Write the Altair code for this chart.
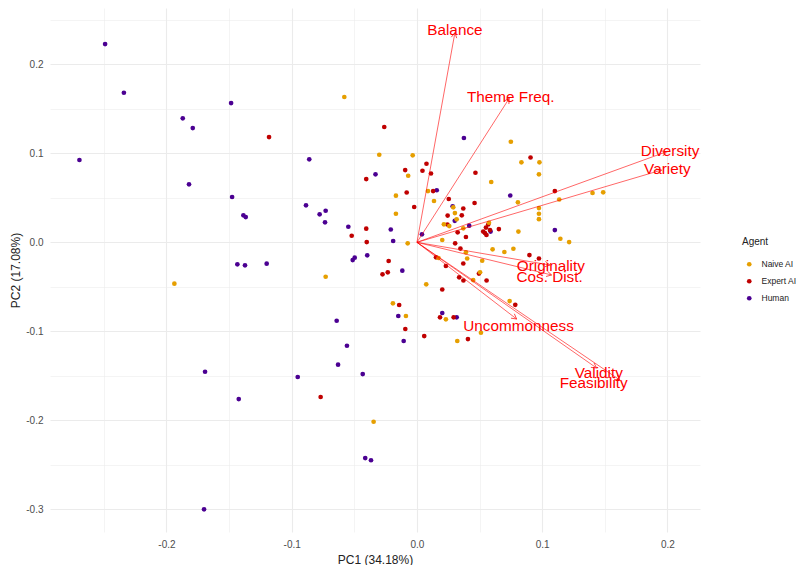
import altair as alt
import pandas as pd

# ---- PCA scores ----
naive_x = [-0.1937, -0.058, 0.075, -0.0301, -0.0034, 0.0834, 0.0978, -0.007, 0.0974, 0.0593,
           0.1402, 0.1487, 0.0088, -0.0168, 0.1136, 0.0136, 0.0806, 0.0974, 0.029, -0.0168,
           0.0974, 0.0303, 0.0974, 0.0317, 0.0575, 0.0215, 0.0258, 0.037, 0.081, 0.0202,
           0.1145, 0.1215, -0.0074, 0.0604, 0.0698, 0.077, 0.0391, 0.0172, 0.0401, 0.0521,
           -0.0729, 0.0504, 0.0449, 0.0074, -0.0192, 0.074, -0.0088, 0.0231, 0.0511, 0.0322, -0.0346]
naive_y = [-0.0465, 0.1633, 0.113, 0.0984, 0.0978, 0.0899, 0.0899, 0.0748, 0.0764, 0.0678,
           0.0554, 0.0562, 0.0576, 0.0524, 0.0481, 0.0464, 0.0449, 0.0385, 0.0393, 0.0321,
           0.0321, 0.0329, 0.026, 0.0258, 0.022, 0.0202, 0.0183, 0.0157, 0.0121, 0.0026,
           0.004, 0.0003, -0.0011, -0.0079, -0.0109, -0.0072, -0.0112, -0.0176, -0.0182, -0.0207,
           -0.0387, -0.0336, -0.0424, -0.0472, -0.0685, -0.066, -0.0828, -0.0865, -0.1016, -0.1109, -0.2016]

expert_x = [-0.1181, -0.0261, 0.0907, 0.0076, -0.0094, 0.0044, 0.0112, -0.0405, 0.0467, 0.1101,
            0.0129, -0.0082, 0.046, 0.0254, -0.0022, 0.037, 0.0245, 0.0358, 0.0243, 0.0325,
            0.0529, 0.0551, 0.0569, 0.0583, 0.0555, 0.0543, 0.0654, 0.0391, -0.0405, -0.0521,
            -0.0401, 0.0305, 0.0347, -0.0226, 0.0152, 0.0898, 0.0974, 0.0231, 0.037, -0.0233,
            -0.0275, 0.0495, 0.0337, 0.0371, 0.0556, 0.0202, -0.0142, 0.0785, 0.0184, 0.0293,
            -0.0093, 0.0058, 0.0407, -0.0769]
expert_y = [0.1183, 0.1296, 0.0953, 0.0883, 0.0812, 0.0804, 0.0773, 0.0711, 0.0782, 0.0576,
            0.0576, 0.056, 0.0442, 0.0487, 0.0397, 0.038, 0.0301, 0.0303, 0.02, 0.0112,
            0.0121, 0.0166, 0.02, 0.0138, 0.0082, 0.0104, 0.0149, 0.006, 0.0153, 0.0074,
            0.0003, -0.0011, -0.007, -0.021, -0.0169, -0.0143, -0.0182, -0.0266, -0.0238, -0.0337,
            -0.036, -0.0351, -0.0393, -0.0429, -0.0429, -0.053, -0.0704, -0.0702, -0.0843, -0.0843,
            -0.0974, -0.1053, -0.1087, -0.1738]

human_x = [-0.249, -0.234, -0.2695, -0.1484, -0.187, -0.179, -0.182, -0.1476, -0.1386, -0.1367,
           -0.1434, -0.1373, -0.12, -0.1692, -0.1423, -0.17, -0.0952, 0.0375, -0.086, -0.0331,
           0.0158, 0.0745, -0.0886, 0.0285, -0.0777, -0.0729, -0.0734, 0.0302, 0.0417, 0.0588,
           0.1101, -0.0548, -0.0209, 0.004, -0.019, -0.0397, -0.0497, -0.0513, -0.0117, -0.0641,
           -0.0149, 0.0202, 0.0317, -0.0106, -0.0559, -0.063, -0.0433, -0.0413, -0.0367]
human_y = [0.2228, 0.1681, 0.0925, 0.1565, 0.1393, 0.1284, 0.0652, 0.0509, 0.0303, 0.0284,
           -0.0247, -0.0258, -0.024, -0.1454, -0.1761, -0.3, -0.1513, 0.1172, 0.0933, 0.0764,
           0.0585, 0.0526, 0.0416, 0.0404, 0.0315, 0.0355, 0.0225, 0.0242, 0.0187, 0.0121,
           0.0138, 0.0175, 0.0144, 0.009, 0.0015, -0.0146, -0.0173, -0.0199, -0.0319, -0.0881,
           -0.0828, -0.0794, -0.0843, -0.1109, -0.1162, -0.1375, -0.148, -0.2424, -0.2449]

agents = ["Naive AI", "Expert AI", "Human"]
agent_colors = ["#E69F00", "#C00000", "#4B0092"]

# ---- loadings (arrow tips) and label positions ----
var_names = ["Balance", "Theme Freq.", "Diversity", "Variety", "Originality",
             "Cos. Dist.", "Uncommonness", "Validity", "Feasibility"]
load_x = [0.0303, 0.0737, 0.1993, 0.1953, 0.1061, 0.1075, 0.0796, 0.1434, 0.162]
load_y = [0.2355, 0.1618, 0.1018, 0.0812, -0.0255, -0.0367, -0.0862, -0.1412, -0.1547]
label_x = [0.0303, 0.0749, 0.2021, 0.1999, 0.1069, 0.1059, 0.0811, 0.1452, 0.1411]
label_y = [0.2385, 0.1629, 0.1029, 0.0821, -0.0267, -0.0393, -0.0937, -0.1472, -0.1578]

x_ticks = [-0.25, -0.2, -0.15, -0.1, -0.05, 0.0, 0.05, 0.1, 0.15, 0.2]
y_ticks = [-0.3, -0.25, -0.2, -0.15, -0.1, -0.05, 0.0, 0.05, 0.1, 0.15, 0.2, 0.25]
x_domain = [-0.293, 0.226]
y_domain = [-0.3255, 0.2633]

W, H = 650, 524

rows = []
for name, xs, ys in [("Human", human_x, human_y), ("Expert AI", expert_x, expert_y),
                     ("Naive AI", naive_x, naive_y)]:
    for a, b in zip(xs, ys):
        rows.append({"PC1": a, "PC2": b, "Agent": name})
scores = pd.DataFrame(rows)

loads = pd.DataFrame({"var": var_names, "x": load_x, "y": load_y,
                      "lx": label_x, "ly": label_y})
loads["x0"] = 0.0
loads["y0"] = 0.0

kx = W / (x_domain[1] - x_domain[0])
ky = H / (y_domain[1] - y_domain[0])

major_test = "abs(datum.value*10 - round(datum.value*10)) < 0.001"
label_expr = f"{major_test} ? replace(format(datum.value, '.1f'), '\u2212', '-') : ''"

xs = alt.Scale(domain=x_domain, nice=False, zero=False)
ys = alt.Scale(domain=y_domain, nice=False, zero=False)

x_axis = alt.Axis(values=x_ticks, labelExpr=label_expr, title="PC1 (34.18%)",
                  grid=True, gridColor="#EBEBEB",
                  gridWidth={"condition": {"test": major_test, "value": 1.1}, "value": 0.55},
                  domain=False, ticks=False, labelPadding=7, titlePadding=5)
y_axis = alt.Axis(values=y_ticks, labelExpr=label_expr, title="PC2 (17.08%)",
                  grid=True, gridColor="#EBEBEB",
                  gridWidth={"condition": {"test": major_test, "value": 1.1}, "value": 0.55},
                  domain=False, ticks=False, labelPadding=7, titlePadding=3)

points = alt.Chart(scores).mark_point(filled=True, size=22, opacity=1).encode(
    x=alt.X("PC1:Q", scale=xs, axis=x_axis),
    y=alt.Y("PC2:Q", scale=ys, axis=y_axis),
    color=alt.Color("Agent:N", scale=alt.Scale(domain=agents, range=agent_colors),
                    sort=agents,
                    legend=alt.Legend(title="Agent", orient="none", legendX=692, legendY=229,
                                      symbolSize=22, symbolType="circle", padding=0,
                                      titlePadding=13, rowPadding=8, labelOffset=8,
                                      symbolOffset=3)),
)

lines = alt.Chart(loads).mark_rule(color="#FF0000", strokeWidth=0.8, opacity=0.75).encode(
    x="x0:Q", y="y0:Q", x2="x:Q", y2="y:Q")

heads = alt.Chart(loads).transform_calculate(
    ang=f"(atan2(datum.x * {kx:.3f}, datum.y * {ky:.3f}) * 180 / PI + 360) % 360"
).mark_point(shape="M -0.55 1 L 0 0 L 0.55 1", filled=False, size=100,
             color="#FF0000", strokeWidth=0.8, opacity=0.8).encode(
    x="x:Q", y="y:Q", angle=alt.Angle("ang:Q", scale=None))

labels = alt.Chart(loads).mark_text(color="#FF0000", fontSize=15.3, font="Liberation Sans",
                                    align="center", baseline="middle").encode(
    x="lx:Q", y="ly:Q", text="var:N")

chart = alt.layer(points, lines, heads, labels).properties(
    width=W, height=H,
    autosize=alt.AutoSizeParams(type="none"),
    padding={"left": 42, "top": 0, "right": 98, "bottom": 33},
).configure_view(stroke=None).configure_axis(
    labelFont="Liberation Sans", labelFontSize=10, labelColor="#4D4D4D",
    titleFont="Liberation Sans", titleFontSize=12, titleColor="#222222", titleFontWeight="normal",
).configure_legend(
    titleFont="Liberation Sans", titleFontSize=10, titleColor="#222222", titleFontWeight="normal",
    labelFont="Liberation Sans", labelFontSize=8.5, labelColor="#222222",
)

chart.save("out.html", embed_options={"renderer": "svg", "actions": False})
